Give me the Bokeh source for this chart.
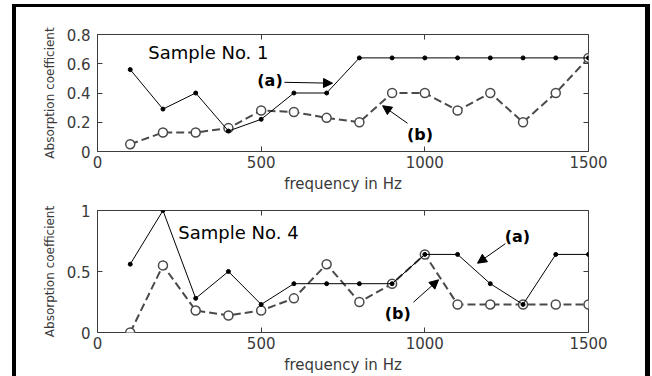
from bokeh.plotting import figure
from bokeh.layouts import column
from bokeh.models import Range1d, FixedTicker, LinearAxis, Arrow, NormalHead, Label
from bokeh.embed import file_html
from bokeh.resources import INLINE

# ---- data ----
freq = [100, 200, 300, 400, 500, 600, 700, 800, 900, 1000, 1100, 1200, 1300, 1400, 1500]
s1_a = [0.56, 0.29, 0.40, 0.14, 0.22, 0.40, 0.40, 0.64, 0.64, 0.64, 0.64, 0.64, 0.64, 0.64, 0.64]
s1_b = [0.05, 0.13, 0.13, 0.16, 0.28, 0.27, 0.23, 0.20, 0.40, 0.40, 0.28, 0.40, 0.20, 0.40, 0.64]
s4_a = [0.56, 1.00, 0.28, 0.50, 0.23, 0.40, 0.40, 0.40, 0.40, 0.64, 0.64, 0.40, 0.23, 0.64, 0.64]
s4_b = [0.00, 0.55, 0.18, 0.14, 0.18, 0.28, 0.56, 0.25, 0.40, 0.64, 0.23, 0.23, 0.23, 0.23, 0.23]
x_ticks = [0, 500, 1000, 1500]
y1_ticks = [0, 0.2, 0.4, 0.6, 0.8]
y1_labels = ["0", "0.2", "0.4", "0.6", "0.8"]
y2_ticks = [0, 0.5, 1]
y2_labels = ["0", "0.5", "1"]
x_title = "frequency in Hz"
y_title = "Absorption coefficient"

FONT = "DejaVu Sans"
AX = "#3c3c3c"
TXT = "#3a3a3a"


def make_fig(a, b, ymax, yticks, ylabels, height, top, title, title_xy, notes):
    p = figure(width=629, height=height, x_range=Range1d(0, 1500), y_range=Range1d(0, ymax),
               output_backend="svg", toolbar_location=None,
               min_border_left=81, min_border_right=57, min_border_top=top, min_border_bottom=41)
    p.xgrid.visible = False
    p.ygrid.visible = False
    p.outline_line_color = AX
    p.outline_line_width = 1
    p.background_fill_color = "white"
    p.border_fill_color = "white"

    p.xaxis.ticker = FixedTicker(ticks=x_ticks)
    p.yaxis.ticker = FixedTicker(ticks=yticks)
    p.yaxis.major_label_overrides = dict(zip(yticks, ylabels))
    p.xaxis.axis_label = x_title
    p.yaxis.axis_label = y_title
    for ax in (p.xaxis[0], p.yaxis[0]):
        ax.axis_line_color = None
        ax.major_tick_in = 5
        ax.major_tick_out = 0
        ax.major_tick_line_color = AX
        ax.minor_tick_line_color = None
        ax.major_label_text_font = FONT
        ax.major_label_text_font_size = "15px"
        ax.major_label_text_color = TXT
        ax.axis_label_text_font = FONT
        ax.axis_label_text_font_style = "normal"
        ax.axis_label_text_color = TXT
    p.xaxis.major_label_standoff = 4
    p.xaxis.axis_label_standoff = 4
    p.xaxis.axis_label_text_font_size = "15px"
    p.yaxis.major_label_standoff = 7
    p.yaxis.axis_label_standoff = 7
    p.yaxis.axis_label_text_font_size = "12px"

    for loc, tk in (("above", x_ticks), ("right", yticks)):
        ax = LinearAxis(ticker=FixedTicker(ticks=tk), axis_line_color=None,
                        major_tick_in=5, major_tick_out=0, major_tick_line_color=AX,
                        minor_tick_line_color=None, major_label_text_color=None,
                        major_label_text_font_size="1px", major_label_standoff=0)
        p.add_layout(ax, loc)

    # series (b): dashed with open circles
    p.line(freq, b, line_color="#4a4a4a", line_width=2, line_dash="8 4")
    p.scatter(freq, b, marker="circle", size=9, line_color="#4a4a4a", line_width=1.5,
              fill_color="white")
    # series (a): thin solid with small dots
    p.line(freq, a, line_color="black", line_width=1)
    p.scatter(freq, a, marker="circle", size=4, line_color="black", fill_color="black")

    p.add_layout(Label(x=title_xy[0], y=title_xy[1], text=title, text_font=FONT,
                       text_font_size="18px", text_color="black", text_baseline="middle",
                       text_align="left"))
    for txt, tx, ty, x0, y0, x1, y1 in notes:
        p.add_layout(Label(x=tx, y=ty, text=txt, text_font=FONT, text_font_size="16px",
                           text_font_style="bold", text_color="black",
                           text_baseline="middle", text_align="center"))
        p.add_layout(Arrow(x_start=x0, y_start=y0, x_end=x1, y_end=y1, line_width=1,
                           line_color="black",
                           end=NormalHead(size=9, fill_color="black", line_color="black")))
    return p


p1 = make_fig(s1_a, s1_b, 0.8, y1_ticks, y1_labels, 188, 27, "Sample No. 1", (155, 0.675),
              [("(a)", 527, 0.487, 571, 0.473, 718, 0.467),
               ("(b)", 985, 0.113, 947, 0.193, 871, 0.313)])
p2 = make_fig(s4_a, s4_b, 1.0, y2_ticks, y2_labels, 181, 15, "Sample No. 4", (247, 0.816),
              [("(a)", 1283, 0.79, 1246, 0.728, 1161, 0.568),
               ("(b)", 917, 0.152, 965, 0.248, 1042, 0.432)])

layout = column(p1, p2, spacing=0, margin=(4, 0, 0, 12),
                styles={"border-left": "4px solid black", "border-top": "3px solid black",
                        "border-right": "5px solid black", "background": "white"})

open("out.html", "w").write(file_html(layout, INLINE))
